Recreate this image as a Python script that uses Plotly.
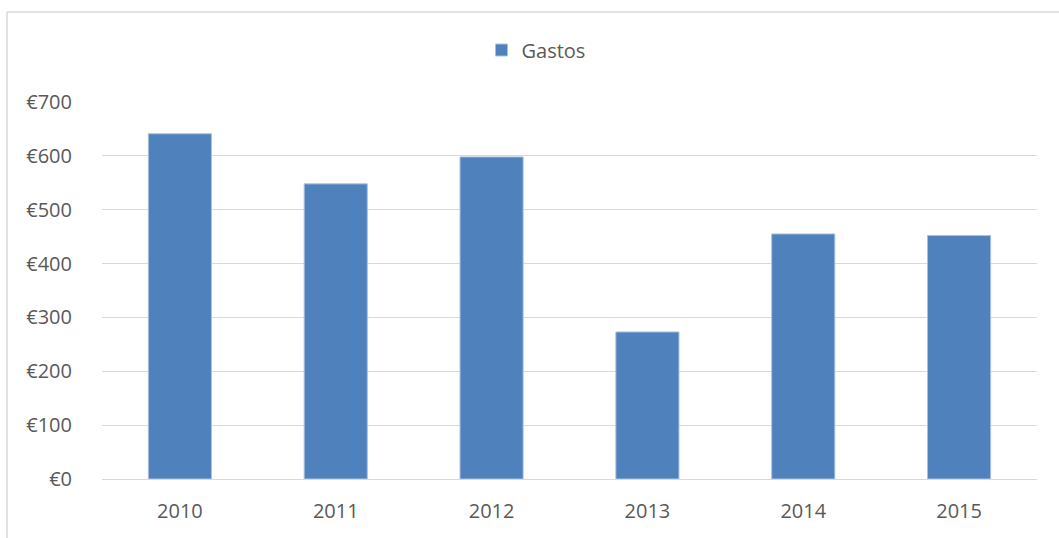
import plotly.graph_objects as go

years = ["2010", "2011", "2012", "2013", "2014", "2015"]
gastos = [641, 548, 598, 273, 455, 452]
series_name = "Gastos"
y_tickvals = [0, 100, 200, 300, 400, 500, 600, 700]
y_ticktext = ["€0", "€100", "€200", "€300", "€400", "€500", "€600", "€700"]

W, H = 1059, 538
L, R, T, B = 102, 22, 102, 59
pw, ph = W - L - R, H - T - B

def px_x(px):
    return (px - L) / pw

def px_y(py):
    return (H - B - py) / ph

fig = go.Figure()
fig.add_trace(go.Bar(
    x=years, y=gastos, name=series_name,
    marker=dict(color="#4F81BD", line=dict(color="#A9C1E0", width=1)),
    showlegend=True,
))

font_family = "Open Sans, Liberation Sans, sans-serif"
fig.update_layout(
    width=W, height=H,
    margin=dict(l=L, r=R, t=T, b=B),
    paper_bgcolor="white", plot_bgcolor="white",
    bargap=0.595,
    font=dict(family=font_family, size=20, color="#595959"),
    showlegend=True,
    legend=dict(
        orientation="h", x=px_x(536), xanchor="center",
        y=px_y(50), yanchor="middle",
        font=dict(size=20, color="#595959"),
        bgcolor="rgba(0,0,0,0)",
    ),
    xaxis=dict(
        showgrid=False, showline=False, zeroline=False,
        ticks="", ticklabelstandoff=18,
        tickfont=dict(size=20, color="#595959"),
    ),
    yaxis=dict(
        range=[0, 700], tickvals=y_tickvals, ticktext=y_ticktext,
        showgrid=True, gridcolor="#D9D9D9", gridwidth=1,
        zeroline=True, zerolinecolor="#D9D9D9", zerolinewidth=1,
        showline=False, ticks="", ticklabelstandoff=29,
        tickfont=dict(size=20, color="#595959"),
    ),
    shapes=[
        dict(type="line", xref="paper", yref="paper",
             x0=px_x(7), x1=px_x(1070), y0=px_y(12), y1=px_y(12),
             line=dict(color="#D9D9D9", width=1.5)),
        dict(type="line", xref="paper", yref="paper",
             x0=px_x(7), x1=px_x(7), y0=px_y(12), y1=px_y(545),
             line=dict(color="#D9D9D9", width=1.5)),
    ],
)

fig.write_html("out.html", config={"displayModeBar": False},
               post_script="document.body.style.margin='0';")
